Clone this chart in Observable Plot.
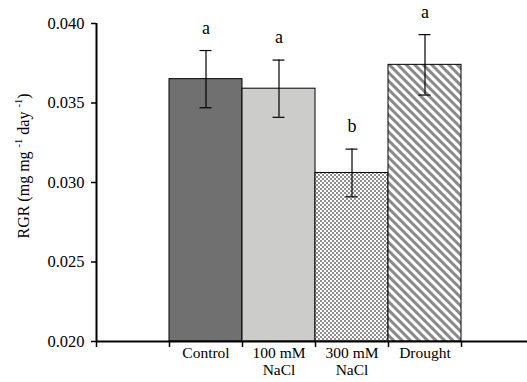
<!DOCTYPE html>
<html>
<head>
<meta charset="utf-8">
<script src="https://cdn.jsdelivr.net/npm/d3@7"></script>
<script src="https://cdn.jsdelivr.net/npm/@observablehq/plot@0.6"></script>
<style>
  html, body { margin: 0; padding: 0; background: #fff; }
  #chart svg { display: block; }
</style>
</head>
<body>
<div id="chart"></div>
<script>
const categories = ["Control", "100 mM\nNaCl", "300 mM\nNaCl", "Drought"];
const rgr = [0.0365, 0.0359, 0.0306, 0.0374];
const err = [0.0018, 0.0018, 0.0015, 0.0019];
const letters = ["a", "a", "b", "a"];
const fills = ["#707070", "#cccccb", "url(#checker)", "url(#stripes)"];
const yTicks = [0.020, 0.025, 0.030, 0.035, 0.040];
const xBoundaryTicks = [0, 1, 2, 3, 4, 5];

const data = categories.map((c, i) => ({
  cat: c, pos: i + 1, v: rgr[i], e: err[i], letter: letters[i], fill: fills[i]
}));

const font = "Liberation Serif, Times New Roman, serif";
const capHalf = 0.082; // half cap width in x units
const tickLen = 0.00038; // downward tick length in y units

const plot = Plot.plot({
  width: 527,
  height: 382,
  marginLeft: 96,
  marginRight: 0,
  marginTop: 23,
  marginBottom: 41,
  style: { fontFamily: font, fontSize: "17px", color: "#000", background: "#fff" },
  x: { type: "linear", domain: [0, 5.904], axis: null },
  y: { domain: [0.020, 0.040], axis: null },
  marks: [
    Plot.rect(data, {
      x1: d => d.pos, x2: d => d.pos + 1, y1: 0.020, y2: "v",
      fill: "fill", stroke: "#000", strokeWidth: 1
    }),
    Plot.ruleX(data, { x: d => d.pos + 0.5, y1: d => d.v - d.e, y2: d => d.v + d.e, stroke: "#000", strokeWidth: 1.2 }),
    Plot.ruleY(data, { y: d => d.v - d.e, x1: d => d.pos + 0.5 - capHalf, x2: d => d.pos + 0.5 + capHalf, stroke: "#000", strokeWidth: 1.2 }),
    Plot.ruleY(data, { y: d => d.v + d.e, x1: d => d.pos + 0.5 - capHalf, x2: d => d.pos + 0.5 + capHalf, stroke: "#000", strokeWidth: 1.2 }),
    Plot.text(data, { x: d => d.pos + 0.5, y: d => d.v + d.e, text: "letter", dy: -17, lineAnchor: "bottom", fontSize: 18, fill: "#000" }),
    // axes
    Plot.ruleX([0], { stroke: "#000", strokeWidth: 2 }),
    Plot.ruleY([0.020], { stroke: "#000", strokeWidth: 2 }),
    Plot.axisY(yTicks, { ticks: yTicks, tickFormat: d3.format(".3f"), tickSize: 5, tickPadding: 7, fontSize: 16.5, stroke: "#000", strokeWidth: 1.5, fill: "#000", label: null }),
    Plot.ruleX(xBoundaryTicks, { x: d => d, y1: 0.020, y2: 0.020 - tickLen, stroke: "#000", strokeWidth: 1.5 }),
    Plot.text(data, { x: d => d.pos + 0.5, y: 0.020, text: "cat", dy: 4, lineAnchor: "top", lineHeight: 1.1, fontSize: 15.5, fill: "#000" })
  ]
});

const svg = d3.select(plot);
const defs = svg.insert("defs", ":first-child");
const checker = defs.append("pattern").attr("id", "checker").attr("patternUnits", "userSpaceOnUse")
  .attr("width", 4).attr("height", 4);
checker.append("rect").attr("width", 4).attr("height", 4).attr("fill", "#fff");
checker.append("rect").attr("width", 2).attr("height", 2).attr("fill", "#8f8f8f");
checker.append("rect").attr("x", 2).attr("y", 2).attr("width", 2).attr("height", 2).attr("fill", "#8f8f8f");
const stripes = defs.append("pattern").attr("id", "stripes").attr("patternUnits", "userSpaceOnUse")
  .attr("width", 6).attr("height", 6).attr("patternTransform", "rotate(-45)");
stripes.append("rect").attr("width", 6).attr("height", 6).attr("fill", "#fff");
stripes.append("rect").attr("width", 3).attr("height", 6).attr("fill", "#8a8a8a");

// y-axis title with superscripts
const t = svg.append("text")
  .attr("transform", "translate(25,166) rotate(-90)")
  .attr("text-anchor", "middle")
  .attr("dominant-baseline", "middle")
  .attr("font-family", font)
  .attr("font-size", 16)
  .attr("fill", "#000");
t.append("tspan").text("RGR (mg mg ");
t.append("tspan").attr("font-size", 10.5).attr("baseline-shift", "super").text("-1");
t.append("tspan").text(" day ");
t.append("tspan").attr("font-size", 10.5).attr("baseline-shift", "super").text("-1");
t.append("tspan").text(")");

document.getElementById("chart").appendChild(plot);
</script>
</body>
</html>
